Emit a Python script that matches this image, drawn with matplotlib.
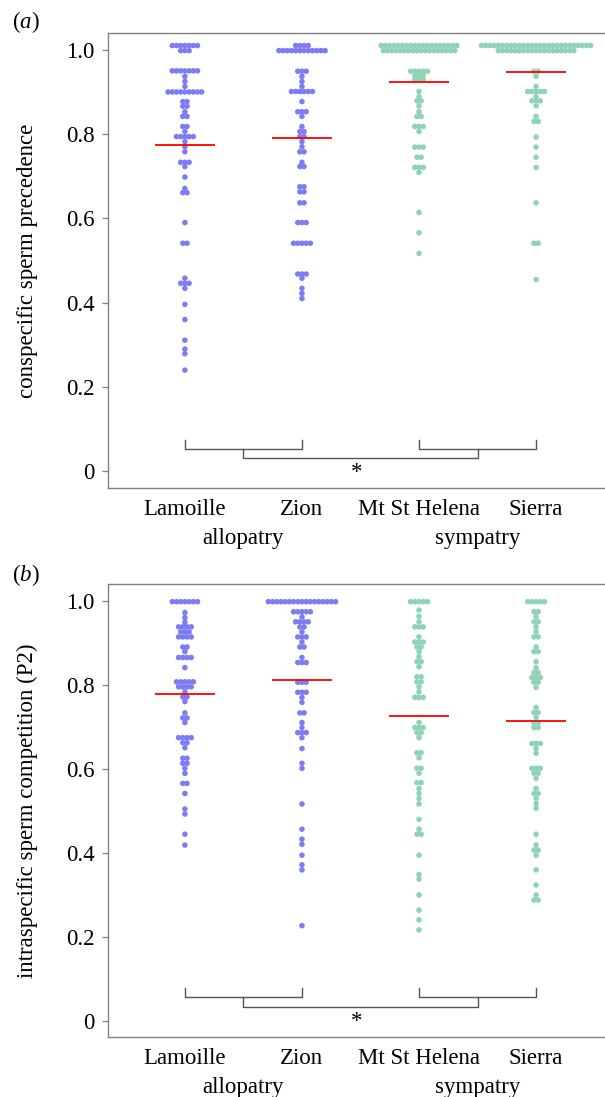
import matplotlib

matplotlib.use("Agg")
import matplotlib.pyplot as plt
import numpy as np

plt.rcParams["font.family"] = ["Liberation Serif", "DejaVu Serif"]
plt.rcParams["mathtext.fontset"] = "custom"
plt.rcParams["mathtext.rm"] = "Liberation Serif"
plt.rcParams["mathtext.it"] = "Liberation Serif:italic"

SITES = ["Lamoille", "Zion", "Mt St Helena", "Sierra"]
GROUPS = ["allopatry", "sympatry"]
YTICKS = [0, 0.2, 0.4, 0.6, 0.8, 1.0]
YTICK_LABELS = ["0", "0.2", "0.4", "0.6", "0.8", "1.0"]

# (a) conspecific sperm precedence: value levels and number of flies at each
LAM_A_VALS = [1.01, 0.998, 0.95, 0.937, 0.925, 0.913, 0.90, 0.877, 0.866, 0.853,
              0.842, 0.818, 0.806, 0.794, 0.782, 0.770, 0.758, 0.733, 0.723, 0.698,
              0.671, 0.661, 0.590, 0.541, 0.458, 0.446, 0.434, 0.396, 0.360, 0.311,
              0.290, 0.279, 0.240]
LAM_A_N = [7, 3, 7, 1, 1, 1, 9, 2, 2, 1,
           2, 2, 1, 5, 1, 1, 1, 3, 1, 1,
           1, 2, 1, 2, 1, 3, 1, 1, 1, 1,
           1, 1, 1]
ZION_A_VALS = [1.01, 0.998, 0.949, 0.937, 0.925, 0.913, 0.901, 0.877, 0.853, 0.842,
               0.818, 0.806, 0.794, 0.782, 0.770, 0.758, 0.733, 0.723, 0.675, 0.663,
               0.637, 0.590, 0.541, 0.468, 0.458, 0.434, 0.422, 0.410]
ZION_A_N = [4, 12, 3, 1, 1, 1, 6, 1, 3, 1,
            1, 2, 2, 1, 1, 2, 1, 2, 2, 2,
            2, 3, 5, 3, 1, 1, 1, 1]
MSH_A_VALS = [1.01, 0.998, 0.949, 0.939, 0.929, 0.901, 0.889, 0.879, 0.867, 0.853,
              0.842, 0.818, 0.806, 0.769, 0.745, 0.721, 0.709, 0.614, 0.566, 0.517]
MSH_A_N = [19, 18, 5, 3, 3, 1, 1, 2, 1, 1,
           2, 3, 1, 3, 2, 3, 1, 1, 1, 1]
SIE_A_VALS = [1.01, 0.998, 0.949, 0.937, 0.913, 0.901, 0.889, 0.879, 0.867, 0.842,
              0.830, 0.793, 0.769, 0.745, 0.721, 0.637, 0.541, 0.455]
SIE_A_N = [27, 19, 2, 1, 1, 5, 1, 3, 1, 1,
           2, 1, 1, 1, 1, 1, 2, 1]

# (b) intraspecific sperm competition (P2)
LAM_B_VALS = [0.998, 0.972, 0.960, 0.949, 0.938, 0.926, 0.914, 0.890, 0.879, 0.865,
              0.841, 0.807, 0.795, 0.783, 0.771, 0.760, 0.733, 0.721, 0.710, 0.674,
              0.662, 0.650, 0.625, 0.613, 0.601, 0.589, 0.565, 0.541, 0.504, 0.492,
              0.444, 0.418]
LAM_B_N = [7, 1, 1, 1, 4, 3, 4, 2, 1, 4,
           1, 5, 4, 1, 2, 1, 1, 2, 1, 4,
           2, 1, 2, 2, 1, 1, 2, 1, 1, 1,
           1, 1]
ZION_B_VALS = [0.998, 0.974, 0.962, 0.950, 0.938, 0.926, 0.914, 0.902, 0.890, 0.865,
               0.853, 0.806, 0.782, 0.770, 0.758, 0.733, 0.710, 0.698, 0.686, 0.674,
               0.648, 0.613, 0.601, 0.516, 0.456, 0.432, 0.420, 0.394, 0.371, 0.359,
               0.226]
ZION_B_N = [17, 5, 1, 4, 2, 1, 3, 1, 2, 1,
            3, 3, 3, 1, 1, 2, 1, 1, 3, 1,
            1, 1, 1, 1, 1, 1, 1, 1, 1, 1,
            1]
MSH_B_VALS = [0.998, 0.978, 0.963, 0.950, 0.938, 0.914, 0.902, 0.890, 0.879, 0.867,
              0.855, 0.843, 0.819, 0.807, 0.795, 0.783, 0.770, 0.710, 0.698, 0.686,
              0.674, 0.638, 0.626, 0.601, 0.589, 0.567, 0.553, 0.541, 0.529, 0.516,
              0.479, 0.456, 0.444, 0.394, 0.348, 0.337, 0.299, 0.263, 0.240, 0.216]
MSH_B_N = [5, 1, 1, 1, 3, 1, 3, 2, 1, 1,
           2, 1, 2, 2, 1, 1, 3, 1, 3, 2,
           1, 2, 1, 2, 1, 2, 1, 1, 1, 1,
           1, 1, 2, 1, 1, 1, 1, 1, 1, 1]
SIE_B_VALS = [0.998, 0.974, 0.962, 0.950, 0.938, 0.926, 0.914, 0.890, 0.879, 0.855,
              0.841, 0.829, 0.817, 0.806, 0.794, 0.746, 0.734, 0.722, 0.710, 0.698,
              0.660, 0.648, 0.637, 0.601, 0.589, 0.577, 0.553, 0.541, 0.529, 0.517,
              0.506, 0.444, 0.418, 0.406, 0.394, 0.359, 0.323, 0.299, 0.287]
SIE_B_N = [5, 2, 1, 2, 1, 1, 2, 1, 2, 1,
           1, 2, 3, 2, 1, 1, 2, 1, 2, 2,
           3, 1, 1, 3, 2, 1, 1, 2, 1, 1,
           1, 1, 1, 2, 1, 1, 1, 1, 2]

MEDIANS_A = [0.773, 0.790, 0.924, 0.948]
MEDIANS_B = [0.779, 0.811, 0.725, 0.714]

COLORS = ["#7d7df3", "#7d7df3", "#8fd3b6", "#8fd3b6"]
LINE_COLOR = "#808080"
BRACKET_COLOR = "#555555"
FS = 16.5
STEP_PX = 4.2  # horizontal distance between neighbouring dots


def draw_swarm(ax, pos, vals, counts, color):
    # rows of equal values are centred on the site position
    p0 = ax.transData.transform((0, 0))
    p1 = ax.transData.transform((1, 0))
    step = STEP_PX / (p1[0] - p0[0])
    xs, ys = [], []
    for v, n in zip(vals, counts):
        xs.extend(pos + (np.arange(n) - (n - 1) / 2) * step)
        ys.extend([v] * n)
    ax.scatter(xs, ys, s=16, color=color, edgecolors="none", zorder=2)


def draw_panel(ax, data, medians, ylabel, brk):
    ax.set_xlim(-0.657, 3.657)
    ax.set_ylim(-0.04, 1.04)
    for i, (vals, counts) in enumerate(data):
        draw_swarm(ax, i, vals, counts, COLORS[i])
        ax.hlines(medians[i], i - 0.255, i + 0.255, color="red", lw=1.3, zorder=3)

    # significance brackets: allopatry vs sympatry
    top, mid, low = brk
    for a, b in [(0, 1), (2, 3)]:
        ax.plot([a, a, b, b], [top, mid, mid, top], color=BRACKET_COLOR, lw=1.0)
    ax.plot([0.5, 0.5, 2.5, 2.5], [mid, low, low, mid], color=BRACKET_COLOR, lw=1.0)
    ax.text(1.47, -0.003, "*", ha="center", va="center", fontsize=FS)

    ax.set_xticks(range(len(SITES)))
    ax.set_xticklabels(SITES, fontsize=FS)
    ax.tick_params(axis="x", length=0, pad=8)
    ax.set_yticks(YTICKS)
    ax.set_yticklabels(YTICK_LABELS, fontsize=FS)
    ax.tick_params(axis="y", length=4.5, width=0.9, color=LINE_COLOR, pad=5)
    for s in ax.spines.values():
        s.set_color(LINE_COLOR)
        s.set_linewidth(1.0)

    for x, g in zip([0.5, 2.5], GROUPS):
        ax.text(x, -0.088, g, transform=ax.get_xaxis_transform(),
                ha="center", va="top", fontsize=FS)
    ax.set_ylabel(ylabel, fontsize=FS)
    ax.yaxis.set_label_coords(-0.138, 0.5)
    return ax


fig = plt.figure(figsize=(6.05, 10.97), dpi=100)
ax_a = fig.add_axes([0.1785, 0.555, 0.8347, 0.415])
ax_b = fig.add_axes([0.1785, 0.0544, 0.8347, 0.4132])

draw_panel(ax_a,
           [(LAM_A_VALS, LAM_A_N), (ZION_A_VALS, ZION_A_N),
            (MSH_A_VALS, MSH_A_N), (SIE_A_VALS, SIE_A_N)],
           MEDIANS_A, "conspecific sperm precedence", (0.074, 0.054, 0.032))
draw_panel(ax_b,
           [(LAM_B_VALS, LAM_B_N), (ZION_B_VALS, ZION_B_N),
            (MSH_B_VALS, MSH_B_N), (SIE_B_VALS, SIE_B_N)],
           MEDIANS_B, "intraspecific sperm competition (P2)", (0.077, 0.056, 0.033))

fig.text(0.02, 0.98, r"($\mathit{a}$)", fontsize=FS, ha="left", va="center")
fig.text(0.02, 0.476, r"($\mathit{b}$)", fontsize=FS, ha="left", va="center")

fig.savefig("out.png", dpi=100)
